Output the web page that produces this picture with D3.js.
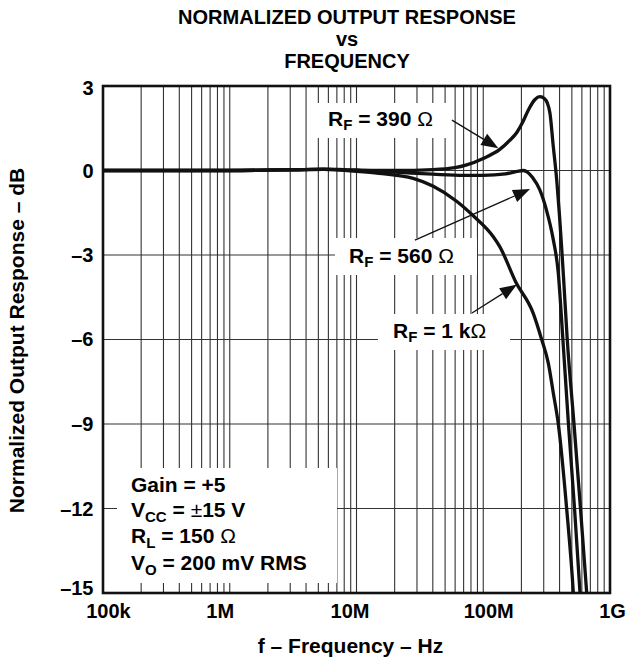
<!DOCTYPE html>
<html><head><meta charset="utf-8">
<script src="https://cdn.jsdelivr.net/npm/d3@7"></script>
<style>
body{margin:0;background:#fff}
text{font-family:"Liberation Sans",Arial,Helvetica,sans-serif;font-weight:bold;fill:#000}
</style>
</head><body><svg id="c" width="629" height="659"></svg>
<script>
// ---- data ----
const titleLines = ["NORMALIZED OUTPUT RESPONSE", "vs", "FREQUENCY"];
const xAxisTitle = "f – Frequency – Hz";
const yAxisTitle = "Normalized Output Response – dB";
const xTickValues = [1e5, 1e6, 1e7, 1e8, 1e9];
const xTickLabels = ["100k", "1M", "10M", "100M", "1G"];
const yTickValues = [3, 0, -3, -6, -9, -12, -15];
const yTickLabels = ["3", "0", "–3", "–6", "–9", "–12", "–15"];

const freq390 = [1e5, 1e6, 3e6, 5.5e6, 1e7, 2e7, 4e7, 6e7, 7.4e7, 1e8, 1.35e8, 1.6e8, 1.84e8, 2.05e8, 2.27e8, 2.56e8, 2.8e8, 3.05e8, 3.2e8, 3.36e8, 3.57e8, 3.8e8, 3.98e8, 4.15e8, 4.3e8, 4.6e8, 5.2e8, 5.85e8, 6.55e8, 6.8e8];
const db390   = [0, 0, 0.02, 0.05, 0.02, 0, 0.03, 0.1, 0.2, 0.43, 0.75, 1.05, 1.35, 1.72, 2.15, 2.52, 2.62, 2.55, 2.4, 2.03, 0.85, -0.34, -1.5, -2.7, -3.8, -6, -9, -12, -15, -16];

const freq560 = [1e5, 1e6, 5.5e6, 1e7, 2e7, 4e7, 7e7, 1e8, 1.5e8, 1.85e8, 2.07e8, 2.25e8, 2.45e8, 2.8e8, 3.15e8, 3.55e8, 3.9e8, 4.25e8, 4.7e8, 5.25e8, 5.8e8, 6e8];
const db560   = [0, 0, 0.04, 0, -0.06, -0.13, -0.17, -0.17, -0.12, -0.03, 0, -0.07, -0.25, -0.7, -1.4, -2.4, -3.6, -6, -9, -12, -15, -16];

const freq1k = [1e5, 1e6, 5.5e6, 1e7, 1.5e7, 2.8e7, 4e7, 6.2e7, 8.3e7, 1.2e8, 1.35e8, 1.8e8, 2.48e8, 2.89e8, 3.26e8, 3.57e8, 3.91e8, 4.55e8, 5.14e8, 5.3e8];
const db1k   = [0, 0, 0.04, -0.03, -0.1, -0.28, -0.55, -1.1, -1.6, -2.35, -2.7, -3.95, -5.07, -6, -6.84, -7.9, -9, -12, -15, -16];

const seriesLabels = [
  {main: "R", sub: "F", rest: " = 390 ", sym: "Ω"},
  {main: "R", sub: "F", rest: " = 560 ", sym: "Ω"},
  {main: "R", sub: "F", rest: " = 1 k", sym: "Ω"}
];
const conditions = [
  [{t: "Gain = +5"}],
  [{t: "V"}, {t: "CC", sub: true}, {t: " = "}, {t: "±", sym: true}, {t: "15 V"}],
  [{t: "R"}, {t: "L", sub: true}, {t: " = 150 "}, {t: "Ω", sym: true}],
  [{t: "V"}, {t: "O", sub: true}, {t: " = 200 mV RMS"}]
];

// ---- layout ----
const svg = d3.select("#c");
const L = 103, R = 610, T = 86, B = 593;
const x = d3.scaleLog().domain([1e5, 1e9]).range([L, R]);
const y = d3.scaleLinear().domain([-15, 3]).range([B, T]);
const xTickNudge = [5, -10, -7, 5, 2];
const yTickNudge = [2, 1, 0, 0, 0, 1, -5];

svg.append("rect").attr("width", 629).attr("height", 659).attr("fill", "#fff");

// grid
const g = svg.append("g");
const vLines = [];
for (let e = 5; e < 9; e++) for (let m = 1; m <= 9; m++) vLines.push(m * Math.pow(10, e));
g.selectAll("line.v").data(vLines).join("line")
  .attr("x1", d => x(d)).attr("x2", d => x(d)).attr("y1", T).attr("y2", B)
  .attr("stroke", "#333").attr("stroke-width", 1.1);
g.selectAll("line.h").data(yTickValues).join("line")
  .attr("x1", L).attr("x2", R).attr("y1", d => y(d)).attr("y2", d => y(d))
  .attr("stroke", "#333").attr("stroke-width", 1.1);

// white label boxes
const boxes = [[317, 103, 130, 35], [335, 238, 142, 37], [378, 314, 132, 36], [117, 468, 220, 115]];
svg.selectAll("rect.box").data(boxes).join("rect")
  .attr("x", d => d[0]).attr("y", d => d[1]).attr("width", d => d[2]).attr("height", d => d[3])
  .attr("fill", "#fff");

// curves
svg.append("clipPath").attr("id", "clip").append("rect")
  .attr("x", L).attr("y", T).attr("width", R - L).attr("height", B - T);
const line = d3.line().x(d => x(d[0])).y(d => y(d[1])).curve(d3.curveMonotoneX);
const series = [
  d3.zip(freq1k, db1k),
  d3.zip(freq560, db560),
  d3.zip(freq390, db390)
];
svg.append("g").attr("clip-path", "url(#clip)").selectAll("path").data(series).join("path")
  .attr("d", line).attr("fill", "none").attr("stroke", "#111").attr("stroke-width", 3.3)
  .attr("stroke-linejoin", "round");

// frame
svg.append("rect").attr("x", L).attr("y", T).attr("width", R - L).attr("height", B - T)
  .attr("fill", "none").attr("stroke", "#111").attr("stroke-width", 2.6);

// axes
const yAxis = d3.axisLeft(y).tickValues(yTickValues).tickSize(0).tickPadding(9.5)
  .tickFormat((d, i) => yTickLabels[i]);
const ya = svg.append("g").attr("transform", `translate(${L},0)`).call(yAxis);
ya.select(".domain").remove();
ya.selectAll("text").style("font-size", "20px").style("font-family", '"Liberation Sans",Arial,sans-serif')
  .style("font-weight", "bold").attr("fill", "#000")
  .attr("transform", (d, i) => `translate(0,${yTickNudge[i]})`);

const xAxis = d3.axisBottom(x).tickValues(xTickValues).tickSize(0).tickPadding(11)
  .tickFormat((d, i) => xTickLabels[i]);
const xa = svg.append("g").attr("transform", `translate(0,${B})`).call(xAxis);
xa.select(".domain").remove();
xa.selectAll("text").style("font-size", "20px").style("font-family", '"Liberation Sans",Arial,sans-serif')
  .style("font-weight", "bold").attr("fill", "#000")
  .attr("transform", (d, i) => `translate(${xTickNudge[i]},0)`);

// titles
svg.selectAll("text.title").data(titleLines).join("text").attr("class", "title")
  .attr("x", 347).attr("y", (d, i) => [23.5, 45.9, 68.3][i])
  .attr("text-anchor", "middle").style("font-size", "20px").text(d => d);
svg.append("text").attr("x", 350.5).attr("y", 653).attr("text-anchor", "middle")
  .style("font-size", "21px").text(xAxisTitle);
svg.append("text").attr("transform", "translate(23.5,340.5) rotate(-90)")
  .attr("text-anchor", "middle").style("font-size", "21px").text(yAxisTitle);

// series labels
const labelPos = [[328, 126], [349, 263], [393, 338]];
seriesLabels.forEach((s, i) => {
  const t = svg.append("text").attr("x", labelPos[i][0]).attr("y", labelPos[i][1]).style("font-size", "21px");
  t.append("tspan").text(s.main);
  t.append("tspan").attr("dy", 4).style("font-size", "15px").text(s.sub);
  t.append("tspan").attr("dy", -4).text(s.rest);
  t.append("tspan").style("font-weight", "normal").text(s.sym);
});

// arrows (start freq/dB -> tip freq/dB)
const arrows = [
  [[5.66e7, 1.79], [1.315e8, 0.79]],
  [[2.89e7, -2.47], [2.34e8, -0.66]],
  [[8.15e7, -5.06], [1.845e8, -4.05]]
];
arrows.forEach(a => {
  const x0 = x(a[0][0]), y0 = y(a[0][1]), x1 = x(a[1][0]), y1 = y(a[1][1]);
  const dx = x1 - x0, dy = y1 - y0, len = Math.hypot(dx, dy);
  const ux = dx / len, uy = dy / len, hl = 17, hw = 6.5;
  const bx = x1 - ux * hl, by = y1 - uy * hl;
  svg.append("line").attr("x1", x0).attr("y1", y0).attr("x2", bx).attr("y2", by)
    .attr("stroke", "#111").attr("stroke-width", 1.3);
  svg.append("polygon").attr("points",
    [[x1, y1], [bx - uy * hw, by + ux * hw], [bx + uy * hw, by - ux * hw]].map(p => p.join(",")).join(" "))
    .attr("fill", "#111");
});

// conditions
const condY = [491.7, 516.7, 543.3, 570];
conditions.forEach((parts, i) => {
  const t = svg.append("text").attr("x", 131).attr("y", condY[i]).style("font-size", "21px");
  let shifted = false;
  parts.forEach(p => {
    const ts = t.append("tspan").text(p.t);
    if (p.sub && !shifted) { ts.attr("dy", 5).style("font-size", "15px"); shifted = true; }
    else if (!p.sub && shifted) { ts.attr("dy", -5); shifted = false; }
    if (p.sym) ts.style("font-weight", "normal");
  });
});
</script>
</body></html>
